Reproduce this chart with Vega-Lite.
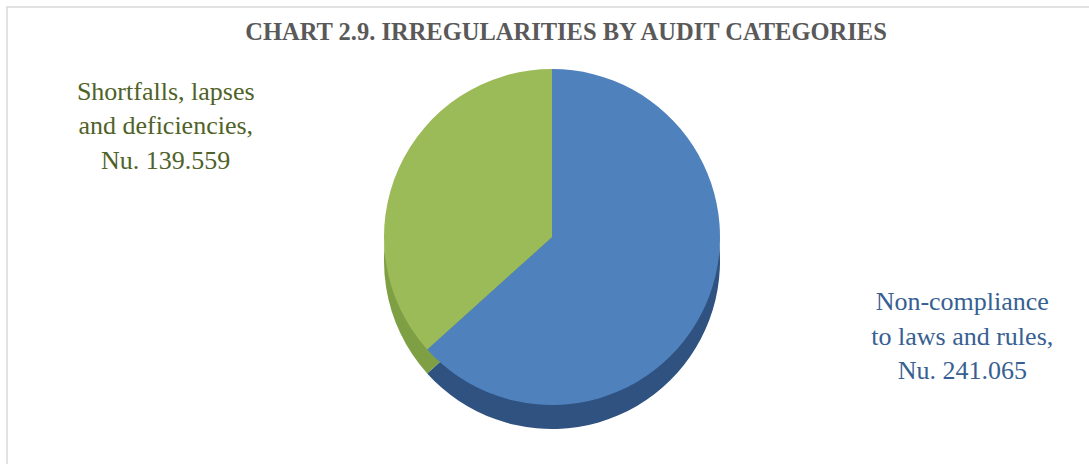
{
  "$schema": "https://vega.github.io/schema/vega-lite/v6.json",
  "autosize": "none",
  "width": 1090,
  "height": 460,
  "padding": {"left": 7, "top": 7, "right": 0, "bottom": 0},
  "background": "white",
  "view": {"stroke": "#d9d9d9", "strokeWidth": 1.5, "fill": "white"},
  "title": {
    "text": "CHART 2.9. IRREGULARITIES BY AUDIT CATEGORIES",
    "font": "Liberation Serif",
    "fontSize": 24.5,
    "fontWeight": "bold",
    "color": "#595959",
    "anchor": "middle",
    "offset": -38,
    "dx": 14
  },
  "data": {
    "values": [
      {"category": "Non-compliance to laws and rules", "value": 241.065, "label": "Non-compliance\nto laws and rules,\nNu. 241.065"},
      {"category": "Shortfalls, lapses and deficiencies", "value": 139.559, "label": "Shortfalls, lapses\nand deficiencies,\nNu. 139.559"}
    ]
  },
  "layer": [
    {
      "mark": {"type": "arc", "outerRadius": 168, "y": {"expr": "height/2 + 24"}},
      "encoding": {
        "theta": {"field": "value", "type": "quantitative", "stack": true},
        "color": {"field": "category", "type": "nominal", "legend": null,
          "scale": {"domain": ["Non-compliance to laws and rules", "Shortfalls, lapses and deficiencies"], "range": ["#2f5280", "#7f9f45"]}}
      }
    },
    {
      "mark": {"type": "arc", "outerRadius": 168, "y": {"expr": "height/2"}},
      "encoding": {
        "theta": {"field": "value", "type": "quantitative", "stack": true},
        "color": {"field": "category", "type": "nominal", "legend": null,
          "scale": {"domain": ["Non-compliance to laws and rules", "Shortfalls, lapses and deficiencies"], "range": ["#4f81bd", "#9bbb59"]}}
      }
    },
    {
      "mark": {"type": "text", "radius": 412, "thetaOffset": -0.16, "font": "Liberation Serif", "fontSize": 26, "lineBreak": "\n", "lineHeight": 34.5, "align": "center", "baseline": "middle", "dx": 12, "dy": -40, "y": {"expr": "height/2"}},
      "encoding": {
        "theta": {"field": "value", "type": "quantitative", "stack": true},
        "text": {"field": "label"},
        "order": {"field": "category"},
        "color": {"field": "category", "type": "nominal", "legend": null,
          "scale": {"domain": ["Non-compliance to laws and rules", "Shortfalls, lapses and deficiencies"], "range": ["#376092", "#4f6228"]}}
      }
    }
  ],
  "resolve": {"scale": {"color": "independent"}}
}
